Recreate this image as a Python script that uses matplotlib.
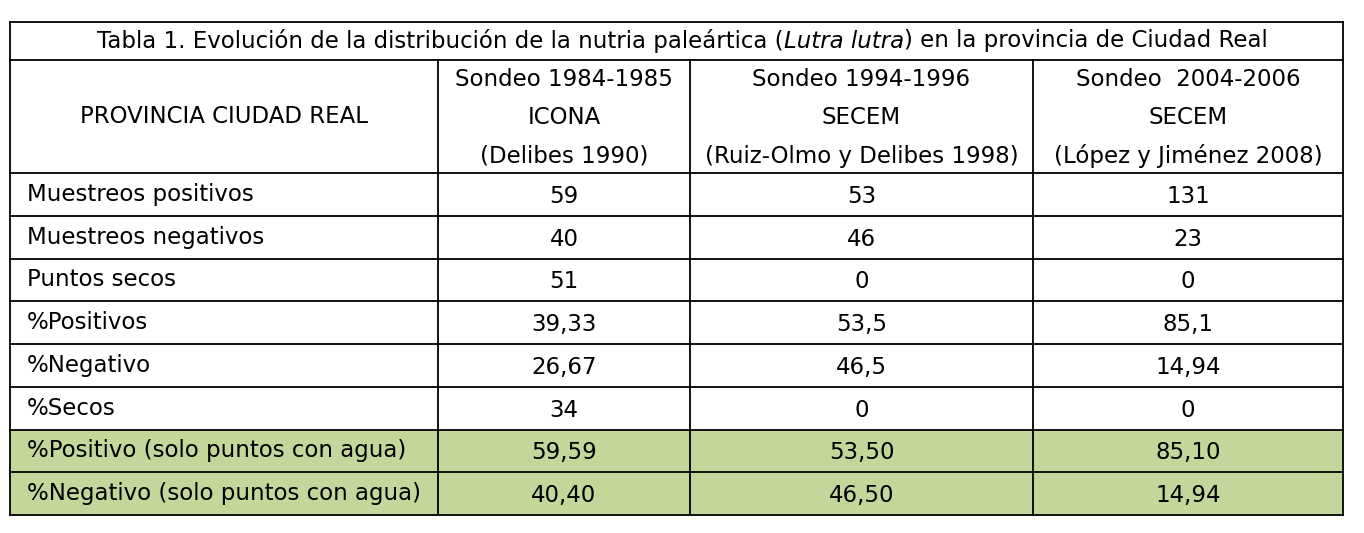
import matplotlib
matplotlib.use("Agg")
from matplotlib import pyplot as plt
from matplotlib.patches import Rectangle

titulo_pre = "Tabla 1. Evolución de la distribución de la nutria paleártica ("
titulo_it = "Lutra lutra"
titulo_post = ") en la provincia de Ciudad Real"

cabecera_1 = "PROVINCIA CIUDAD REAL"
cabeceras = [
    ["Sondeo 1984-1985", "ICONA", "(Delibes 1990)"],
    ["Sondeo 1994-1996", "SECEM", "(Ruiz-Olmo y Delibes 1998)"],
    ["Sondeo  2004-2006", "SECEM", "(López y Jiménez 2008)"],
]

filas = [
    "Muestreos positivos",
    "Muestreos negativos",
    "Puntos secos",
    "%Positivos",
    "%Negativo",
    "%Secos",
    "%Positivo (solo puntos con agua)",
    "%Negativo (solo puntos con agua)",
]
sondeo_84 = ["59", "40", "51", "39,33", "26,67", "34", "59,59", "40,40"]
sondeo_94 = ["53", "46", "0", "53,5", "46,5", "0", "53,50", "46,50"]
sondeo_04 = ["131", "23", "0", "85,1", "14,94", "0", "85,10", "14,94"]
resaltadas = [6, 7]

plt.rcParams['font.family'] = ['Liberation Sans Narrow', 'DejaVu Sans']
fs = 16.5

fig = plt.figure(figsize=(13.64, 5.33), dpi=100)
ax = fig.add_axes([0, 0, 1, 1])
ax.set_xlim(0, 1364)
ax.set_ylim(533, 0)
ax.axis('off')

xs = [10, 438, 690, 1033, 1343]
top, t_bot, h_bot = 22, 60, 173
row_h = (515 - h_bot) / len(filas)
ys = [h_bot + i * row_h for i in range(len(filas) + 1)]

for i in resaltadas:
    ax.add_patch(Rectangle((xs[0], ys[i]), xs[-1] - xs[0], row_h,
                           facecolor='#c4d79b', edgecolor='none'))

lw = 1.3
ax.plot([xs[0], xs[-1]], [top, top], 'k', lw=lw)
ax.plot([xs[0], xs[-1]], [t_bot, t_bot], 'k', lw=lw)
for y in ys:
    ax.plot([xs[0], xs[-1]], [y, y], 'k', lw=lw)
ax.plot([xs[0], xs[0]], [top, ys[-1]], 'k', lw=lw)
ax.plot([xs[-1], xs[-1]], [top, ys[-1]], 'k', lw=lw)
for x in xs[1:-1]:
    ax.plot([x, x], [t_bot, ys[-1]], 'k', lw=lw)

# titulo con parte en cursiva
t1 = ax.text(97, (top + t_bot) / 2, titulo_pre, fontsize=fs, va='center')
fig.canvas.draw()
r = fig.canvas.get_renderer()
bb = t1.get_window_extent(r)
t2 = ax.annotate(titulo_it, xycoords=t1, xy=(1, 0.5), va='center',
                 fontsize=fs, style='italic')
t3 = ax.annotate(titulo_post, xycoords=t2, xy=(1, 0.5), va='center',
                 fontsize=fs)

ax.text((xs[0] + xs[1]) / 2, (t_bot + h_bot) / 2, cabecera_1,
        fontsize=fs, ha='center', va='center')
for j, lineas in enumerate(cabeceras):
    cx = (xs[j + 1] + xs[j + 2]) / 2
    for k, txt in enumerate(lineas):
        ax.text(cx, 80 + k * 38, txt, fontsize=fs, ha='center', va='center')

for i, nombre in enumerate(filas):
    cy = ys[i] + row_h / 2
    ax.text(27, cy, nombre, fontsize=fs, va='center')
    for j, col in enumerate([sondeo_84, sondeo_94, sondeo_04]):
        ax.text((xs[j + 1] + xs[j + 2]) / 2, cy + 2, col[i], fontsize=fs,
                ha='center', va='center')

fig.savefig("out.png", dpi=100)
